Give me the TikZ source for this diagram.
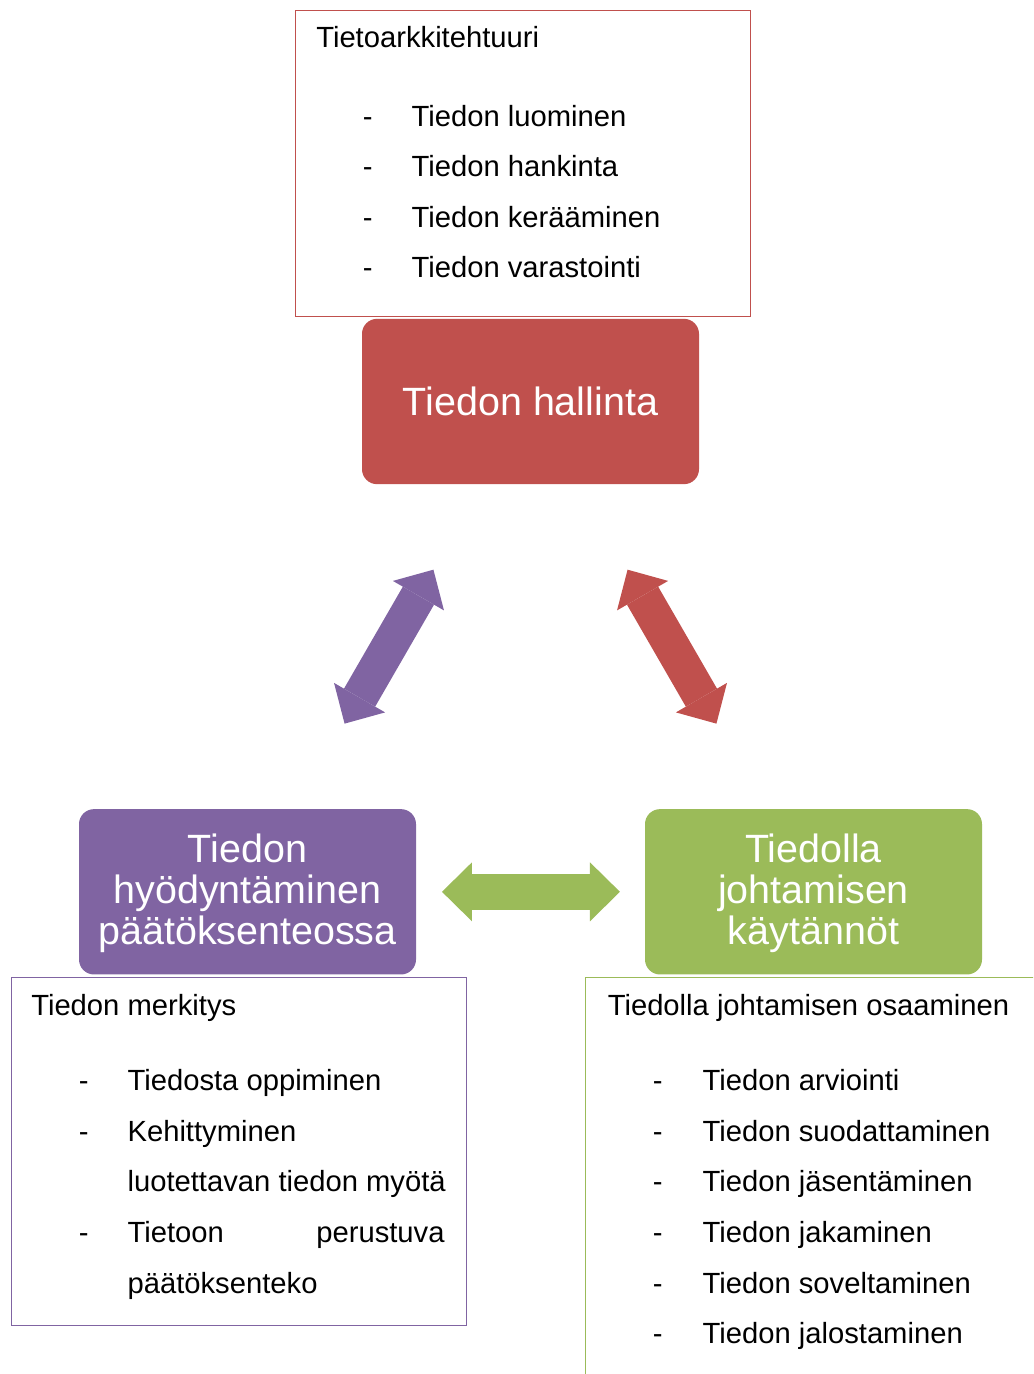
\documentclass[tikz,border=0pt]{standalone}
\usepackage{fontspec}
\setmainfont{Liberation Sans}
\usetikzlibrary{arrows.meta,calc}
\definecolor{accred}{HTML}{C0504D}
\definecolor{accpurple}{HTML}{8064A2}
\definecolor{accgreen}{HTML}{9BBB59}
\tikzset{
  block/.style={rounded corners=11.25pt, minimum width=252.75pt, minimum height=124pt,
    inner sep=0pt, text=white, align=center,
    font=\fontsize{29.6pt}{30.75pt}\selectfont},
  frame/.style={draw, line width=0.75pt, anchor=north west, inner sep=0pt},
  item/.style={anchor=base west, inner sep=0pt, font=\fontsize{21.9pt}{26pt}\selectfont},
  link/.style={line width=27pt,
    {Triangle[length=22.5pt,width=44.25pt,line width=0pt]}-{Triangle[length=22.5pt,width=44.25pt,line width=0pt]}},
}
\begin{document}
\begin{tikzpicture}[x=0.75pt,y=-0.75pt]
\useasboundingbox (0,0) rectangle (1033,1374);
\clip (0,0) rectangle (1033,1374);

% text frames
\node[frame, draw=accred, minimum width=341.25pt, minimum height=229.5pt] (arkk) at (295,10) {};
\node[frame, draw=accpurple, minimum width=341.25pt, minimum height=261pt] (merk) at (11,977) {};
\node[frame, draw=accgreen, line width=1.1pt, minimum width=345pt, minimum height=310pt] (osaa) at (585,976.5) {};

% coloured blocks
\node[block, fill=accred] (hallinta) at (530.5,401.5) {Tiedon hallinta};
\node[block, fill=accpurple] (hyod) at (247.5,891.8) {\rule{0pt}{24.2pt}Tiedon\\hyödyntäminen\\päätöksenteossa};
\node[block, fill=accgreen] (kayt) at (813.5,891.8) {\rule{0pt}{24.2pt}Tiedolla\\johtamisen\\käytännöt};

% double arrows between the blocks
\draw[link, accpurple] ($(hyod.center)!0.343!(hallinta.center)$) -- ($(hyod.center)!0.657!(hallinta.center)$);
\draw[link, accred] ($(kayt.center)!0.343!(hallinta.center)$) -- ($(kayt.center)!0.657!(hallinta.center)$);
\draw[link, accgreen] ($(hyod.center)!0.3436!(kayt.center)$) -- ($(hyod.center)!0.658!(kayt.center)$);

% Tietoarkkitehtuuri
\node[item] (arkk-h) at (316,47.7) {Tietoarkkitehtuuri};
\node[item] (arkk-d1) at (362.7,126) {-};
\node[item] (arkk-d2) at (362.7,176.6) {-};
\node[item] (arkk-d3) at (362.7,227.2) {-};
\node[item] (arkk-d4) at (362.7,277.8) {-};
\node[item] (arkk-1) at (411.3,126) {Tiedon luominen};
\node[item] (arkk-2) at (411.3,176.6) {Tiedon hankinta};
\node[item] (arkk-3) at (411.3,227.2) {Tiedon kerääminen};
\node[item] (arkk-4) at (411.3,277.8) {Tiedon varastointi};

% Tiedon merkitys
\node[item] (merk-h) at (31,1015) {Tiedon merkitys};
\node[item] (merk-d1) at (78.7,1090.7) {-};
\node[item] (merk-d2) at (78.7,1141.3) {-};
\node[item] (merk-d3) at (78.7,1242.5) {-};
\node[item] (merk-1) at (127.3,1090.7) {Tiedosta oppiminen};
\node[item] (merk-2) at (127.3,1141.3) {Kehittyminen};
\node[item] (merk-2b) at (127.3,1191.9) {luotettavan tiedon myötä};
\node[item] (merk-3) at (127.3,1242.5) {\makebox[237.75pt][s]{Tietoon perustuva}};
\node[item] (merk-3b) at (127.3,1293.1) {päätöksenteko};

% Tiedolla johtamisen osaaminen
\node[item] (osaa-h) at (607.5,1015) {Tiedolla johtamisen osaaminen};
\foreach \i/\t in {0/Tiedon arviointi, 1/Tiedon suodattaminen, 2/Tiedon jäsentäminen,
                   3/Tiedon jakaminen, 4/Tiedon soveltaminen, 5/Tiedon jalostaminen} {
  \node[item] (osaa-d\i) at (652.7,1090.7+50.6*\i) {-};
  \node[item] (osaa-\i) at (702.3,1090.7+50.6*\i) {\t};
}
\end{tikzpicture}
\end{document}
